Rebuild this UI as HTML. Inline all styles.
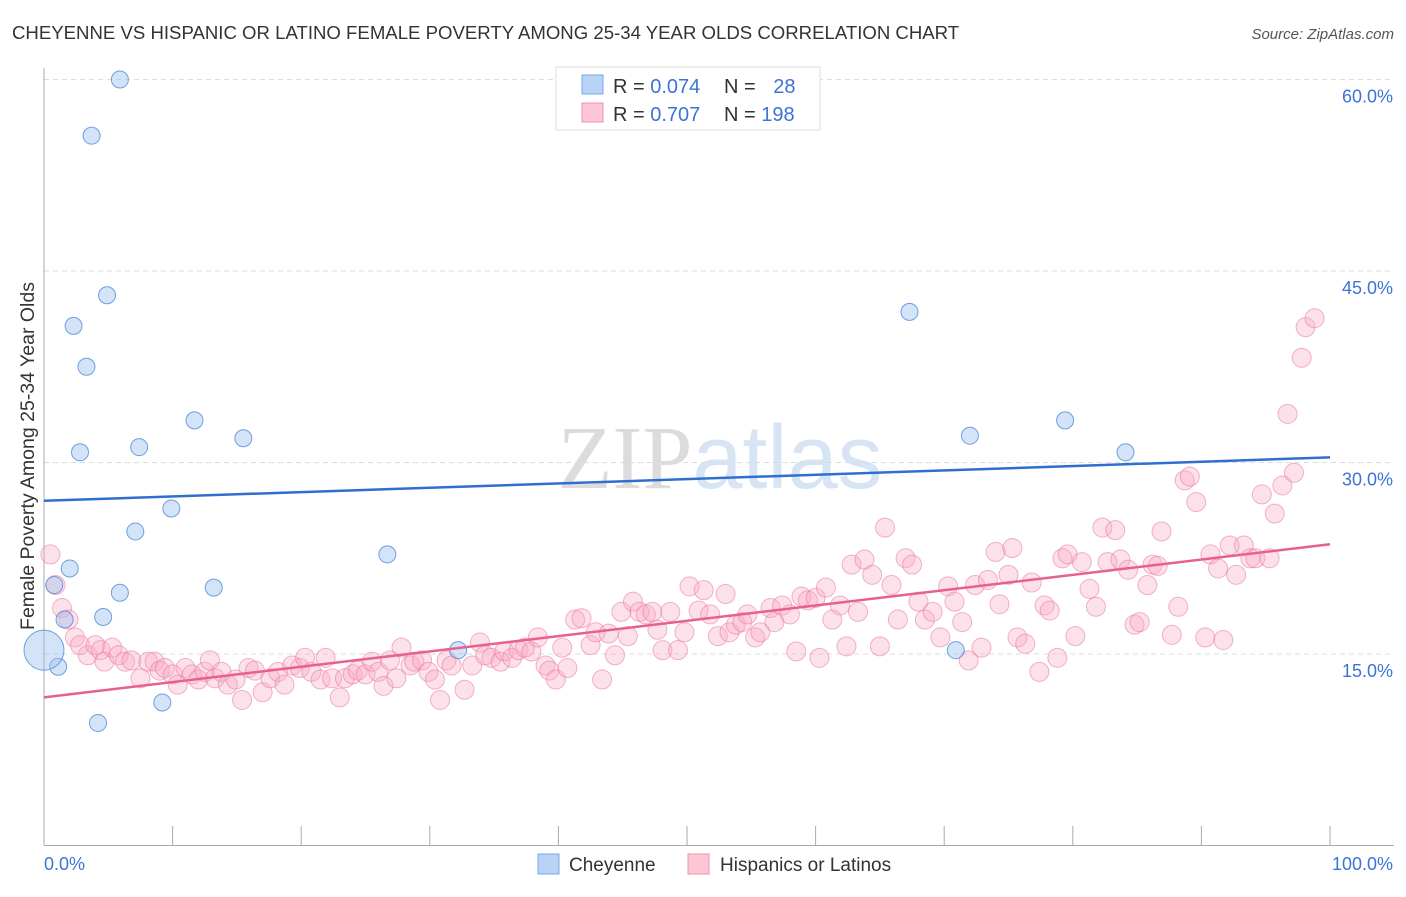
<!DOCTYPE html>
<html><head><meta charset="utf-8"><style>
body{margin:0;background:#fff;font-family:"Liberation Sans",sans-serif;}
svg text{font-family:"Liberation Sans",sans-serif;}
</style></head><body>
<svg id="chart" width="1406" height="892" xmlns="http://www.w3.org/2000/svg">
<text x="12" y="39" font-size="18.6" fill="#333">CHEYENNE VS HISPANIC OR LATINO FEMALE POVERTY AMONG 25-34 YEAR OLDS CORRELATION CHART</text>
<text x="1394" y="39" font-size="15" fill="#555" text-anchor="end" font-style="italic">Source: ZipAtlas.com</text>
<text x="720" y="488" font-size="90" text-anchor="middle" fill="#e4e8ee"><tspan font-family="Liberation Serif" fill="#dcdcdc">ZIP</tspan><tspan fill="#d6e4f4">atlas</tspan></text>
<g id="grid"></g>
<g id="axes"></g>
<g id="pts"></g>
<g id="lines"></g>
<text transform="translate(34,456) rotate(-90)" font-size="19.5" fill="#333" text-anchor="middle">Female Poverty Among 25-34 Year Olds</text>
<g>
<rect x="556" y="67" width="264" height="63" fill="#fff" stroke="#ddd"/>
<rect x="582" y="75" width="21" height="19" fill="#b8d3f5" stroke="#7aa8e6"/>
<rect x="582" y="103" width="21" height="19" fill="#fcc6d5" stroke="#ee93ae"/>
<text x="613" y="93" font-size="20" fill="#333">R = <tspan fill="#3b74d6">0.074</tspan></text>
<text x="724" y="93" font-size="20" fill="#333">N = <tspan fill="#3b74d6" dx="12">28</tspan></text>
<text x="613" y="121" font-size="20" fill="#333">R = <tspan fill="#3b74d6">0.707</tspan></text>
<text x="724" y="121" font-size="20" fill="#333">N = <tspan fill="#3b74d6">198</tspan></text>
</g>
<g>
<rect x="538" y="854" width="21" height="20" fill="#b8d3f5" stroke="#7aa8e6"/>
<text x="569" y="871" font-size="19" fill="#333">Cheyenne</text>
<rect x="688" y="854" width="21" height="20" fill="#fcc6d5" stroke="#ee93ae"/>
<text x="720" y="871" font-size="19" fill="#333">Hispanics or Latinos</text>
</g>
</svg>
<script>
const yTicks=[15,30,45,60];
const yTickLabels=["15.0%","30.0%","45.0%","60.0%"];
const xTickLabels=["0.0%","100.0%"];
const blueX=[5.9,3.7,4.9,2.3,3.3,2.8,7.4,11.7,15.5,9.9,7.1,2.0,5.9,13.2,4.6,1.6,0.8,1.1,26.7,32.2,67.3,72.0,79.4,84.1,70.9,9.2,4.2,0.0];
const blueY=[60.0,55.6,43.1,40.7,37.5,30.8,31.2,33.3,31.9,26.4,24.6,21.7,19.8,20.2,17.9,17.7,20.4,14.0,22.8,15.3,41.8,32.1,33.3,30.8,15.3,11.2,9.6,15.3];
const pinkX=[0.5,0.9,1.4,1.9,2.4,2.8,3.4,4.0,4.4,4.7,5.3,5.8,6.3,6.8,7.5,8.1,8.6,9.0,9.4,10.0,10.4,11.0,11.5,12.0,12.5,12.9,13.3,13.8,14.3,14.9,15.4,15.9,16.4,17.0,17.6,18.2,18.7,19.3,19.9,20.3,20.8,21.5,21.9,22.4,23.0,23.4,24.0,24.4,25.0,25.5,26.0,26.4,26.9,27.4,27.8,28.5,28.8,29.4,29.9,30.4,30.8,31.3,31.7,32.7,33.3,33.9,34.3,34.8,35.5,35.8,36.4,36.9,37.4,37.9,38.4,39.0,39.3,39.8,40.3,40.7,41.3,41.8,42.5,42.9,43.4,43.9,44.4,44.9,45.4,45.8,46.3,46.8,47.3,47.7,48.1,48.7,49.3,49.8,50.2,50.9,51.3,51.8,52.4,53.0,53.3,53.8,54.3,54.7,55.3,55.7,56.5,56.8,57.4,58.0,58.5,58.9,59.4,60.0,60.3,60.8,61.3,61.9,62.4,62.8,63.3,63.8,64.4,65.0,65.4,65.9,66.4,67.0,67.5,68.0,68.5,69.1,69.7,70.3,70.8,71.4,71.9,72.4,72.9,73.4,74.0,74.3,75.0,75.3,75.7,76.3,76.8,77.4,77.8,78.2,78.8,79.2,79.6,80.2,80.7,81.3,81.8,82.3,82.7,83.3,83.7,84.3,84.8,85.2,85.8,86.2,86.6,86.9,87.7,88.2,88.7,89.1,89.6,90.3,90.7,91.3,91.7,92.2,92.7,93.3,93.8,94.2,94.7,95.3,95.7,96.3,96.7,97.2,97.8,98.1,98.8];
const pinkY=[22.8,20.4,18.6,17.7,16.3,15.7,14.9,15.7,15.3,14.4,15.5,14.9,14.4,14.5,13.1,14.4,14.4,13.7,13.9,13.4,12.6,13.9,13.4,13.0,13.6,14.5,13.1,13.6,12.6,13.0,11.4,13.9,13.7,12.0,13.1,13.6,12.6,14.1,13.9,14.7,13.6,13.0,14.7,13.1,11.6,13.1,13.4,13.7,13.4,14.4,13.6,12.5,14.5,13.1,15.5,14.1,14.4,14.5,13.6,13.0,11.4,14.5,14.1,12.2,14.1,15.9,14.9,14.7,14.4,15.2,14.7,15.3,15.5,15.2,16.3,14.1,13.7,13.0,15.5,13.9,17.7,17.8,15.7,16.7,13.0,16.6,14.9,18.3,16.4,19.1,18.3,18.1,18.3,16.9,15.3,18.3,15.3,16.7,20.3,18.4,20.0,18.1,16.4,19.7,16.7,17.3,17.5,18.1,16.3,16.7,18.6,17.5,18.8,18.1,15.2,19.5,19.2,19.4,14.7,20.2,17.7,18.8,15.6,22.0,18.3,22.4,21.2,15.6,24.9,20.4,17.7,22.5,22.0,19.1,17.7,18.3,16.3,20.3,19.1,17.5,14.5,20.4,15.5,20.8,23.0,18.9,21.2,23.3,16.3,15.8,20.6,13.6,18.8,18.4,14.7,22.5,22.8,16.4,22.2,20.1,18.7,24.9,22.2,24.7,22.4,21.6,17.3,17.5,20.4,22.0,21.9,24.6,16.5,18.7,28.6,28.9,26.9,16.3,22.8,21.7,16.1,23.5,21.2,23.5,22.5,22.5,27.5,22.5,26.0,28.2,33.8,29.2,38.2,40.6,41.3];
const blueTrend=[27.0,30.4];
const pinkTrend=[11.6,23.6];

const X0=44,X1=1330,YB=845.5,PX=191.5/15;
const sx=v=>X0+(X1-X0)*v/100;
const sy=v=>YB-v*PX;
const NS="http://www.w3.org/2000/svg";
function mk(tag,attrs,parent){const e=document.createElementNS(NS,tag);for(const k in attrs)e.setAttribute(k,attrs[k]);document.getElementById(parent).appendChild(e);return e;}
yTicks.forEach((t,i)=>{
 const g=mk('line',{x1:X0,x2:1394,y1:sy(t),y2:sy(t),stroke:'#ddd','stroke-dasharray':'5,4'},'grid');
 
 
 const tx=mk('text',{x:1393,y:sy(t)+23,'font-size':18,fill:'#3b74d6','text-anchor':'end'},'axes');
 tx.textContent=yTickLabels[i];
 
 
});
const ya=mk('line',{x1:X0,x2:X0,y1:68,y2:YB,stroke:'#aaa'},'axes');


const xa=mk('line',{x1:X0,x2:1394,y1:YB,y2:YB,stroke:'#aaa'},'axes');


for(let i=0;i<=10;i++){
 const tk=mk('line',{x1:sx(i*10),x2:sx(i*10),y1:826,y2:YB,stroke:'#aaa'},'axes');
 
 
}
[[0,'start',44],[1,'end',1393]].forEach(([i,a,x])=>{
 const t=mk('text',{x:x,y:870,'font-size':18,fill:'#3b74d6','text-anchor':a},'axes');
 t.textContent=xTickLabels[i];
 
 
});
pinkX.forEach((v,i)=>{
 const c=mk('circle',{cx:sx(v),cy:sy(pinkY[i]),r:9.5,fill:'rgba(249,170,195,0.35)',stroke:'rgba(232,120,155,0.55)','stroke-width':1},'pts');
 
 
});
blueX.forEach((v,i)=>{
 const c=mk('circle',{cx:sx(v),cy:sy(blueY[i]),r:i==blueX.length-1?20:8.5,fill:'rgba(160,196,240,0.45)',stroke:'rgba(70,130,215,0.75)','stroke-width':1},'pts');
 
 
});
const bl=mk('line',{x1:sx(0),x2:sx(100),y1:sy(blueTrend[0]),y2:sy(blueTrend[1]),stroke:'#2f6fd0','stroke-width':2.5},'lines');


const pl=mk('line',{x1:sx(0),x2:sx(100),y1:sy(pinkTrend[0]),y2:sy(pinkTrend[1]),stroke:'#e8608c','stroke-width':2.5},'lines');


</script>
</body></html>
